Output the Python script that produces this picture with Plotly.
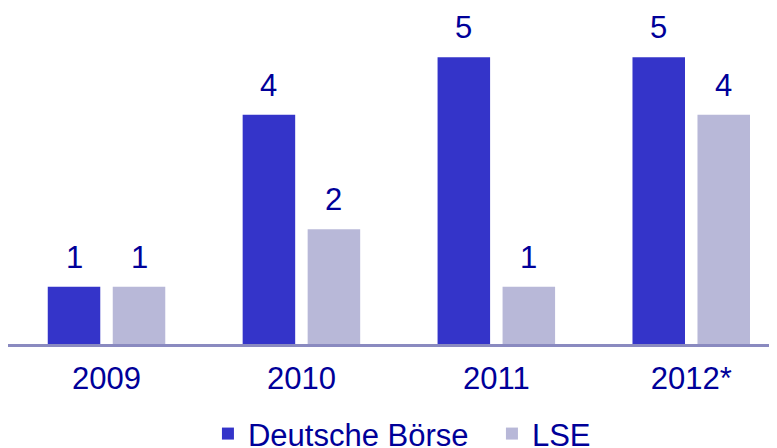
import plotly.graph_objects as go

years = ["2009", "2010", "2011", "2012*"]
deutsche_boerse = [1, 4, 5, 5]
lse = [1, 2, 1, 4]
series_names = ["Deutsche Börse", "LSE"]
colors = ["#3434C9", "#B8B8D8"]
text_color = "#000099"
font_family = "Liberation Sans, Arial, sans-serif"

fig = go.Figure()
for name, vals, col in zip(series_names, [deutsche_boerse, lse], colors):
    fig.add_trace(go.Bar(x=years, y=vals, name=name, marker=dict(color=col, line=dict(width=0))))

for vals, shift in [(deutsche_boerse, -32.5), (lse, 32.5)]:
    for i, v in enumerate(vals):
        fig.add_annotation(x=i, y=v, xref="x", yref="y", text=str(v), showarrow=False,
                           xshift=shift, yanchor="bottom", yshift=10,
                           font=dict(size=31, color=text_color, family=font_family))

fig.update_layout(
    width=769, height=440,
    margin=dict(l=0, r=0, t=0, b=104),
    paper_bgcolor="white", plot_bgcolor="white",
    barmode="group", bargap=0.333, bargroupgap=0.192,
    font=dict(family=font_family, color=text_color, size=31),
    legend=dict(orientation="h", x=0.26, xanchor="left", yref="container", y=0.032, yanchor="middle",
                font=dict(size=31, color=text_color), itemwidth=30, traceorder="normal",
                entrywidth=239, entrywidthmode="pixels"),
    xaxis=dict(type="category", range=[-0.5054, 3.440], showline=True, linecolor="#8A8AC0", linewidth=3,
               ticks="", tickfont=dict(size=31, color=text_color), ticklabelstandoff=5,
               showgrid=False, zeroline=False, automargin=False),
    yaxis=dict(range=[0, 5.86], visible=False, showgrid=False, zeroline=False, automargin=False),
)
fig.write_html("out.html")
